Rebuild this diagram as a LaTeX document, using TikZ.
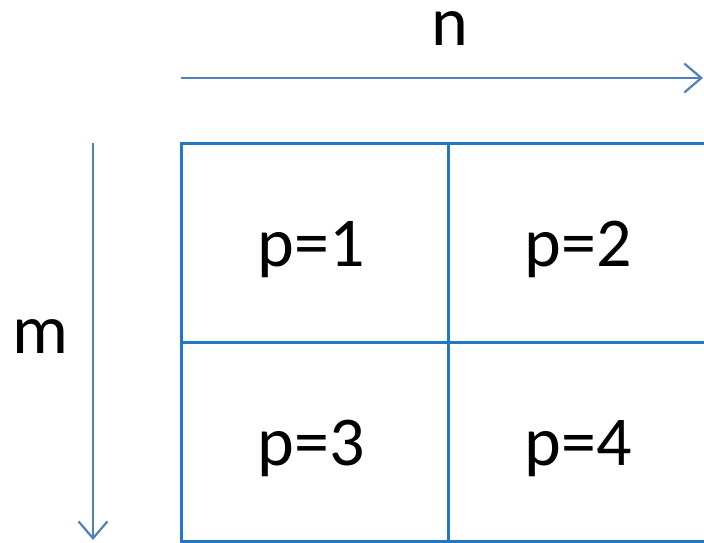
\documentclass[tikz,border=0pt]{standalone}
\usepackage{fontspec}
\setmainfont{Carlito}
\usetikzlibrary{arrows.meta}

\definecolor{gridblue}{RGB}{34,120,200}
\definecolor{axisblue}{RGB}{79,129,189}

\tikzset{
    gridline/.style={draw=gridblue, line width=3pt},
    axisline/.style={draw=axisblue, line width=2.2pt, -{Straight Barb[length=17pt,width=29pt]}},
    cell/.style={anchor=base, font=\fontsize{70}{74}\selectfont},
}

\begin{document}
\begin{tikzpicture}[x=1pt, y=-1pt]
    \useasboundingbox (0,0) rectangle (704,543);
    \clip (0,0) rectangle (704,543);

    % n axis
    \coordinate (nstart) at (181,78);
    \coordinate (nend) at (703,78);
    \draw[axisline] (nstart) -- (nend);
    \node[cell, text height=34pt, inner ysep=0pt] (nlabel) at (450,46) {n};

    % m axis
    \coordinate (mstart) at (93,143);
    \coordinate (mend) at (93,540);
    \draw[axisline] (mstart) -- (mend);
    \node[cell] (mlabel) at (40,353) {m};

    % Grid
    \draw[gridline] (181,143) rectangle (720,541);
    \draw[gridline] (448,143) -- (448,541);
    \draw[gridline] (181,342) -- (720,342);

    % Labels
    \node[cell] (p1) at (311,266) {p=1};
    \node[cell] (p2) at (578,266) {p=2};
    \node[cell] (p3) at (311,465) {p=3};
    \node[cell] (p4) at (578,465) {p=4};
\end{tikzpicture}
\end{document}
